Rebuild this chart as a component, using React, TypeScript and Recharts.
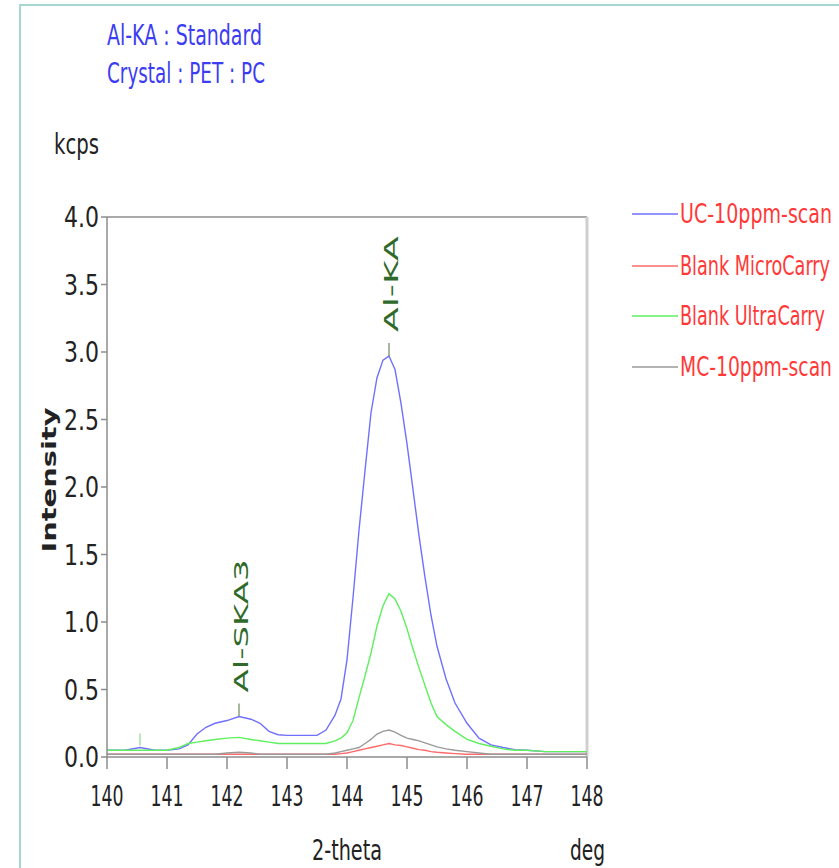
import React from 'react';
import { LineChart, Line, XAxis, YAxis, ReferenceLine, ReferenceDot, Legend } from 'recharts';

const twoTheta = [140.0, 140.3, 140.55, 140.8, 141.0, 141.2, 141.35, 141.5, 141.65, 141.8, 142.0, 142.2, 142.4, 142.55, 142.7, 142.85, 143.0, 143.3, 143.5, 143.65, 143.8, 143.9, 144.0, 144.1, 144.2, 144.3, 144.4, 144.5, 144.6, 144.7, 144.8, 144.9, 145.0, 145.1, 145.2, 145.3, 145.4, 145.5, 145.65, 145.8, 146.0, 146.2, 146.4, 146.6, 146.8, 147.0, 147.3, 147.6, 148.0];
const ucScan = [0.05, 0.05, 0.07, 0.05, 0.05, 0.06, 0.09, 0.17, 0.22, 0.25, 0.27, 0.30, 0.28, 0.25, 0.19, 0.165, 0.16, 0.16, 0.16, 0.20, 0.31, 0.43, 0.72, 1.18, 1.68, 2.12, 2.55, 2.81, 2.94, 2.97, 2.87, 2.62, 2.32, 1.98, 1.64, 1.33, 1.05, 0.82, 0.58, 0.40, 0.25, 0.14, 0.09, 0.07, 0.055, 0.05, 0.04, 0.04, 0.04];
const blankMicro = [0.02, 0.02, 0.02, 0.02, 0.02, 0.02, 0.02, 0.02, 0.02, 0.02, 0.02, 0.02, 0.02, 0.02, 0.02, 0.02, 0.02, 0.02, 0.02, 0.02, 0.02, 0.025, 0.03, 0.04, 0.05, 0.06, 0.07, 0.08, 0.09, 0.10, 0.09, 0.085, 0.075, 0.065, 0.055, 0.05, 0.04, 0.035, 0.03, 0.025, 0.02, 0.02, 0.02, 0.02, 0.02, 0.02, 0.02, 0.02, 0.02];
const blankUltra = [0.05, 0.05, 0.05, 0.05, 0.05, 0.07, 0.10, 0.11, 0.12, 0.13, 0.14, 0.145, 0.13, 0.12, 0.11, 0.10, 0.10, 0.10, 0.10, 0.10, 0.12, 0.14, 0.18, 0.27, 0.44, 0.60, 0.77, 0.97, 1.12, 1.21, 1.17, 1.08, 0.95, 0.80, 0.66, 0.53, 0.40, 0.30, 0.24, 0.19, 0.13, 0.10, 0.08, 0.06, 0.05, 0.05, 0.04, 0.04, 0.04];
const mcScan = [0.02, 0.02, 0.02, 0.02, 0.02, 0.02, 0.02, 0.02, 0.02, 0.02, 0.03, 0.035, 0.03, 0.02, 0.02, 0.02, 0.02, 0.02, 0.02, 0.02, 0.03, 0.04, 0.05, 0.06, 0.07, 0.10, 0.13, 0.17, 0.19, 0.20, 0.185, 0.16, 0.14, 0.13, 0.12, 0.105, 0.09, 0.075, 0.06, 0.05, 0.04, 0.03, 0.02, 0.02, 0.02, 0.02, 0.02, 0.02, 0.02];

const xTicks = [140, 141, 142, 143, 144, 145, 146, 147, 148];
const yTicks = [0, 0.5, 1, 1.5, 2, 2.5, 3, 3.5, 4];

const seriesNames = ['UC-10ppm-scan', 'Blank MicroCarry', 'Blank UltraCarry', 'MC-10ppm-scan'];
const seriesKeys = ['uc', 'bm', 'bu', 'mc'];
const seriesColors = ['#7070ff', '#ff6a6a', '#5ef05e', '#9a9a9a'];
const legendTextLen = [152, 150, 145, 152];

const annX = [140.55, 142.2, 144.7];
const annY = [0.07, 0.30, 2.97];
const annLabel = ['', 'Al-SKA3', 'Al-KA'];
const annLen = [0, 133, 96];

const data = twoTheta.map((t, i) => ({ t, uc: ucScan[i], bm: blankMicro[i], bu: blankUltra[i], mc: mcScan[i] }));

const FONT = "'Liberation Sans Narrow', 'DejaVu Sans Condensed', 'Liberation Sans', sans-serif";

const XTick = (props: any) => {
  const { x, y, payload } = props;
  return (
    <text x={x} y={y + 35} textAnchor="middle" fontFamily={FONT} fontSize={28} fill="#222" textLength={33} lengthAdjust="spacingAndGlyphs">
      {String(payload.value)}
    </text>
  );
};

const YTick = (props: any) => {
  const { x, y, payload } = props;
  return (
    <text x={x} y={y + 10} textAnchor="end" fontFamily={FONT} fontSize={28} fill="#222" textLength={35} lengthAdjust="spacingAndGlyphs">
      {Number(payload.value).toFixed(1)}
    </text>
  );
};

const makeAnn = (i: number) => (props: any) => {
  const { cx, cy } = props;
  if (!annLabel[i]) {
    return <line x1={cx} y1={cy - 2} x2={cx} y2={cy - 14} stroke="#8fd88f" strokeWidth={1.2} />;
  }
  return (
    <g>
      <line x1={cx} y1={cy} x2={cx} y2={cy - 13} stroke="#6b8a5a" strokeWidth={1.2} />
      <text
        x={cx + 9}
        y={cy - 24}
        transform={`rotate(-90 ${cx + 9} ${cy - 24})`}
        fontFamily="'DejaVu Sans', sans-serif"
        fontSize={20}
        fill="#2f6a2a"
        textLength={annLen[i]}
        lengthAdjust="spacingAndGlyphs"
      >
        {annLabel[i]}
      </text>
    </g>
  );
};

const renderLegend = () => (
  <div style={{ position: 'relative', width: 205, height: 190 }}>
    {seriesNames.map((n, i) => (
      <svg key={n} width={205} height={40} style={{ position: 'absolute', left: 0, top: [0, 52, 102, 153][i], overflow: 'visible' }}>
        <line x1={0} y1={14} x2={46} y2={14} stroke={seriesColors[i]} strokeWidth={1.5} />
        <text x={48} y={23} fontFamily={FONT} fontSize={27} fill="#ff3838" textLength={legendTextLen[i]} lengthAdjust="spacingAndGlyphs">{n}</text>
      </svg>
    ))}
  </div>
);

export default function App() {
  return (
    <div style={{ position: 'relative', width: 839, height: 868, overflow: 'hidden', background: '#fff' }}>
      <style>{`body{margin:0;}`}</style>
      <svg width={839} height={868} style={{ position: 'absolute', left: 0, top: 0 }}>
        <rect x={20} y={5} width={900} height={900} fill="none" stroke="#a5d7cf" strokeWidth={2} />
        <text x={107} y={45} fontFamily={FONT} fontSize={28} fill="#3c3cf2" textLength={155} lengthAdjust="spacingAndGlyphs">Al-KA : Standard</text>
        <text x={107} y={83} fontFamily={FONT} fontSize={28} fill="#3c3cf2" textLength={158} lengthAdjust="spacingAndGlyphs">Crystal : PET : PC</text>
        <text x={54} y={154} fontFamily={FONT} fontSize={28} fill="#222" textLength={45} lengthAdjust="spacingAndGlyphs">kcps</text>
        <text x={312} y={860} fontFamily={FONT} fontSize={28} fill="#222" textLength={70} lengthAdjust="spacingAndGlyphs">2-theta</text>
        <text x={570} y={860} fontFamily={FONT} fontSize={28} fill="#222" textLength={35} lengthAdjust="spacingAndGlyphs">deg</text>
        <text x={56} y={480} transform="rotate(-90 56 480)" textAnchor="middle" fontFamily="'DejaVu Sans', sans-serif" fontWeight="bold" fontSize={19} fill="#222" textLength={145} lengthAdjust="spacingAndGlyphs">Intensity</text>
      </svg>
      <div style={{ position: 'absolute', left: 0, top: 0 }}>
        <LineChart width={839} height={868} data={data} margin={{ top: 217, right: 252, bottom: 81, left: 47 }}>
          <XAxis
            dataKey="t"
            type="number"
            domain={[140, 148]}
            ticks={xTicks}
            height={30}
            tickSize={12}
            tick={<XTick />}
            stroke="#8c8c8c"
            strokeWidth={1.5}
            allowDataOverflow
          />
          <YAxis
            type="number"
            domain={[0, 4]}
            ticks={yTicks}
            width={60}
            tickSize={6}
            tick={<YTick />}
            stroke="#8c8c8c"
            strokeWidth={1.5}
            allowDataOverflow
          />
          <ReferenceLine y={4} stroke="#8c8c8c" strokeWidth={1.5} />
          <ReferenceLine x={148} stroke="#cfcfcf" strokeWidth={3} />
          {seriesKeys.map((k, i) => (
            <Line key={k} dataKey={k} name={seriesNames[i]} stroke={seriesColors[i]} strokeWidth={1.4} dot={false} type="linear" isAnimationActive={false} />
          ))}
          {annX.map((x, i) => (
            <ReferenceDot key={i} x={x} y={annY[i]} r={0} shape={makeAnn(i)} />
          ))}
          <Legend
            layout="vertical"
            align="center"
            verticalAlign="middle"
            content={renderLegend}
            wrapperStyle={{ position: 'absolute', left: 632, top: 200, width: 205, height: 190 }}
          />
        </LineChart>
      </div>
    </div>
  );
}
